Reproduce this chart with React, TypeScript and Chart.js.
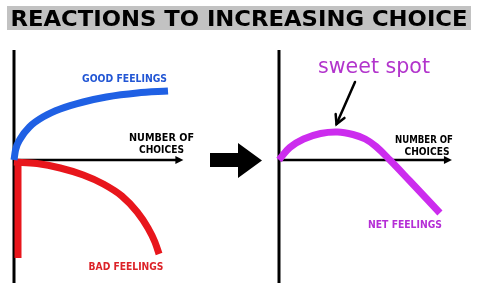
import React, { useEffect, useRef } from "react";
import { Chart, registerables } from "chart.js";

Chart.register(...registerables);

// ---- content ----
const TITLE = "REACTIONS TO INCREASING CHOICE";
const AXIS_LABEL = ["NUMBER OF", "CHOICES"];
const GOOD_LABEL = "GOOD FEELINGS";
const BAD_LABEL = "BAD FEELINGS";
const NET_LABEL = "NET FEELINGS";
const SWEET_LABEL = "sweet spot";

// ---- data (x = number of choices, y = feelings) ----
const goodX = [0, 0.1, 0.4, 1.0, 2.0, 3.0, 4.5, 6.0, 8.0, 10];
const goodY = [0, 1.0, 2.1, 3.3, 4.4, 5.1, 5.8, 6.3, 6.7, 6.9];

const badX = [0, 1.5, 3.0, 4.5, 5.8, 7.0, 8.0, 8.7, 9.15, 9.42];
const badY = [-0.2, -0.35, -0.8, -1.5, -2.4, -3.6, -5.2, -6.8, -8.2, -9.4];

const badEdgeX = [0.26, 0.26];
const badEdgeY = [-0.2, -9.8];

const netX = [0, 0.7, 1.6, 2.7, 3.8, 4.8, 5.6, 6.3, 7.2, 8.5, 9.6, 10.45];
const netY = [0, 1.25, 2.1, 2.65, 2.8, 2.55, 2.1, 1.35, 0, -2.1, -3.9, -5.3];

const SWEET_SPOT_X = 3.8;
const SWEET_SPOT_Y = 2.8;

// axis extents (data units)
const AXIS_X_END_L = 11.0;
const AXIS_X_END_R = 11.23;
const AXIS_Y_TOP = 11;
const AXIS_Y_BOTTOM = -12.3;

// ---- layout ----
const W = 480;
const H = 290;
const UNIT_X = 15.4;
const UNIT_Y = 10;
const ORIGIN_L_X = 14;
const ORIGIN_R_X = 279;
const ORIGIN_Y = 160;

const BLUE = "#1f60e4";
const RED = "#e8161c";
const MAGENTA = "#cc2cee";

const toPts = (xs: number[], ys: number[]) => xs.map((x, i) => ({ x, y: ys[i] }));

function drawFit(
  ctx: CanvasRenderingContext2D,
  text: string,
  cx: number,
  cy: number,
  targetW: number,
  size: number,
  weight: string,
  color: string,
  family = '"DejaVu Sans"'
) {
  ctx.save();
  ctx.font = `${weight} ${size}px ${family}`;
  const w = ctx.measureText(text).width;
  ctx.translate(cx, cy + size * 0.365);
  ctx.scale(targetW / w, 1);
  ctx.textAlign = "center";
  ctx.textBaseline = "alphabetic";
  ctx.fillStyle = color;
  ctx.fillText(text, 0, 0);
  ctx.restore();
}

const decoPlugin = {
  id: "deco",
  beforeDatasetsDraw(chart: any) {
    const ctx: CanvasRenderingContext2D = chart.ctx;
    const { xL, yL, xR, yR } = chart.scales;
    ctx.save();
    // title
    ctx.fillStyle = "#c2c2c2";
    ctx.fillRect(7, 6, 464, 24);
    drawFit(ctx, TITLE, 239, 18.3, 457, 22, "bold", "#000");

    const axes = (xs: any, ys: any, xEnd: number) => {
      const x0 = xs.getPixelForValue(0);
      const y0 = ys.getPixelForValue(0);
      const xe = xs.getPixelForValue(xEnd);
      ctx.strokeStyle = "#000";
      ctx.lineWidth = 3;
      ctx.beginPath();
      ctx.moveTo(x0, ys.getPixelForValue(AXIS_Y_TOP));
      ctx.lineTo(x0, ys.getPixelForValue(AXIS_Y_BOTTOM));
      ctx.stroke();
      ctx.lineWidth = 2.5;
      ctx.beginPath();
      ctx.moveTo(x0, y0);
      ctx.lineTo(xe - 6, y0);
      ctx.stroke();
      ctx.fillStyle = "#000";
      ctx.beginPath();
      ctx.moveTo(xe, y0);
      ctx.lineTo(xe - 8, y0 - 4);
      ctx.lineTo(xe - 8, y0 + 4);
      ctx.closePath();
      ctx.fill();
    };
    axes(xL, yL, AXIS_X_END_L);
    axes(xR, yR, AXIS_X_END_R);

    // big arrow between panels
    ctx.fillStyle = "#000";
    ctx.beginPath();
    ctx.moveTo(210, 153);
    ctx.lineTo(238, 153);
    ctx.lineTo(238, 143);
    ctx.lineTo(262, 160.5);
    ctx.lineTo(238, 178);
    ctx.lineTo(238, 167);
    ctx.lineTo(210, 167);
    ctx.closePath();
    ctx.fill();
    ctx.restore();
  },
  afterDatasetsDraw(chart: any) {
    const ctx: CanvasRenderingContext2D = chart.ctx;
    const { xR, yR } = chart.scales;
    ctx.save();
    // labels
    drawFit(ctx, GOOD_LABEL, 124.5, 78, 85, 9.6, "bold", "#2256d4");
    drawFit(ctx, AXIS_LABEL[0], 161.5, 137, 65, 9.6, "bold", "#000");
    drawFit(ctx, AXIS_LABEL[1], 161.5, 149, 45, 9.6, "bold", "#000");
    drawFit(ctx, BAD_LABEL, 126, 266, 75, 9.6, "bold", "#dc2228");
    drawFit(ctx, AXIS_LABEL[0], 424, 139, 58, 9.6, "bold", "#000");
    drawFit(ctx, AXIS_LABEL[1], 427, 151, 45, 9.6, "bold", "#000");
    drawFit(ctx, NET_LABEL, 405, 224, 74, 9.6, "bold", "#b52ed6");

    // sweet spot text
    ctx.font = 'normal 21px "DejaVu Sans"';
    const w = ctx.measureText(SWEET_LABEL).width;
    ctx.translate(318, 73);
    ctx.scale(112 / w, 1);
    ctx.fillStyle = "#b234cc";
    ctx.textAlign = "left";
    ctx.textBaseline = "alphabetic";
    ctx.fillText(SWEET_LABEL, 0, 0);
    ctx.setTransform(1, 0, 0, 1, 0, 0);

    // pointer arrow to the peak
    const tx = xR.getPixelForValue(SWEET_SPOT_X) - 1;
    const ty = yR.getPixelForValue(SWEET_SPOT_Y) - 8;
    const sx = 355;
    const sy = 82;
    ctx.strokeStyle = "#000";
    ctx.lineWidth = 2.5;
    ctx.lineCap = "round";
    ctx.beginPath();
    ctx.moveTo(sx, sy);
    ctx.lineTo(tx, ty);
    ctx.stroke();
    const ang = Math.atan2(ty - sy, tx - sx);
    const hl = 10;
    ctx.beginPath();
    ctx.moveTo(tx + hl * Math.cos(ang + Math.PI - 0.5), ty + hl * Math.sin(ang + Math.PI - 0.5));
    ctx.lineTo(tx, ty);
    ctx.lineTo(tx + hl * Math.cos(ang + Math.PI + 0.5), ty + hl * Math.sin(ang + Math.PI + 0.5));
    ctx.stroke();
    ctx.restore();
  },
};

export default function App() {
  const ref = useRef<HTMLCanvasElement | null>(null);
  useEffect(() => {
    if (!ref.current) return;
    const common = {
      pointRadius: 0,
      fill: false,
      borderCapStyle: "butt" as const,
      cubicInterpolationMode: "monotone" as const,
    };
    const chart = new Chart(ref.current, {
      type: "line",
      data: {
        datasets: [
          { ...common, label: "Good feelings", data: toPts(goodX, goodY), borderColor: BLUE, borderWidth: 7, xAxisID: "xL", yAxisID: "yL" },
          { ...common, label: "Bad feelings", data: toPts(badX, badY), borderColor: RED, borderWidth: 7, xAxisID: "xL", yAxisID: "yL" },
          { ...common, label: "Bad feelings edge", data: toPts(badEdgeX, badEdgeY), borderColor: RED, borderWidth: 7, xAxisID: "xL", yAxisID: "yL" },
          {
            ...common,
            cubicInterpolationMode: "default" as const,
            tension: 0.4,
            label: "Net feelings",
            data: toPts(netX, netY),
            borderColor: MAGENTA,
            borderWidth: 7,
            xAxisID: "xR",
            yAxisID: "yR",
          },
        ],
      },
      options: {
        animation: false,
        responsive: false,
        devicePixelRatio: 1,
        layout: { padding: 0 },
        plugins: { legend: { display: false }, title: { display: false }, tooltip: { enabled: false } },
        scales: {
          xL: { type: "linear", display: false, min: -ORIGIN_L_X / UNIT_X, max: (W - ORIGIN_L_X) / UNIT_X },
          xR: { type: "linear", display: false, min: -ORIGIN_R_X / UNIT_X, max: (W - ORIGIN_R_X) / UNIT_X },
          yL: { type: "linear", display: false, min: -(H - ORIGIN_Y) / UNIT_Y, max: ORIGIN_Y / UNIT_Y },
          yR: { type: "linear", display: false, min: -(H - ORIGIN_Y) / UNIT_Y, max: ORIGIN_Y / UNIT_Y },
        },
      },
      plugins: [decoPlugin],
    } as any);
    return () => chart.destroy();
  }, []);
  return (
    <div style={{ position: "absolute", left: 0, top: 0, width: W, height: H, background: "#fff" }}>
      <canvas ref={ref} width={W} height={H} style={{ display: "block", width: W, height: H }} />
    </div>
  );
}
